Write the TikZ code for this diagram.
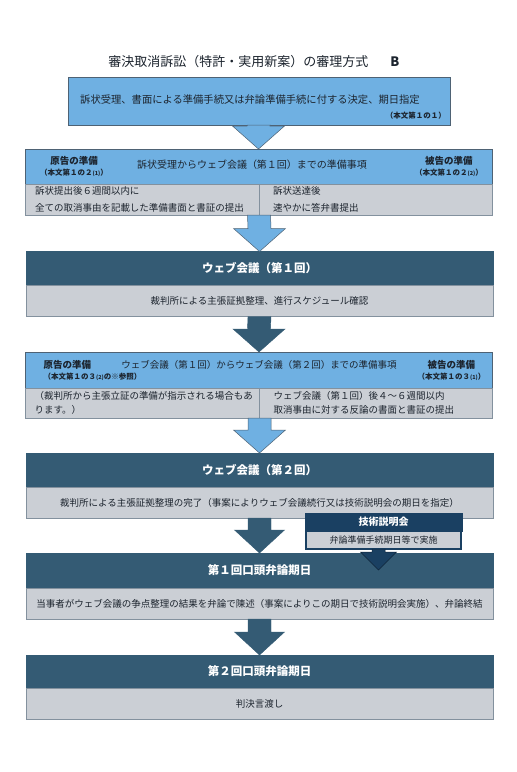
\documentclass[tikz,border=0pt]{standalone}
\usepackage{fontspec}
\setmainfont{Noto Sans CJK JP}
\usepackage{xcolor}
\usetikzlibrary{
    positioning,
    calc
}
\definecolor{skyfill}{RGB}{111,176,226}
\definecolor{slatefill}{RGB}{52,91,116}
\definecolor{navyfill}{RGB}{26,64,98}
\definecolor{greyfill}{RGB}{203,207,213}
\definecolor{edgecol}{RGB}{78,98,116}
\definecolor{inkcol}{RGB}{28,36,46}
\tikzset{
    titletext/.style={
        text=inkcol,
        font=\fontsize{13}{15}\selectfont
    }
}
\tikzset{
    skybox/.style={
        draw=edgecol,
        line width=0.5pt,
        fill=skyfill,
        minimum width=382pt,
        minimum height=48pt,
        outer sep=0pt
    }
}
\tikzset{
    skyhead/.style={
        draw=edgecol,
        line width=0.5pt,
        fill=skyfill,
        minimum width=467pt,
        minimum height=35pt,
        inner sep=0pt,
        outer sep=0pt
    }
}
\tikzset{
    slatehead/.style={
        draw=slatefill,
        fill=slatefill,
        text=white,
        minimum width=467pt,
        minimum height=34pt,
        outer sep=0pt,
        font=\bfseries\fontsize{11.5}{13}\selectfont
    }
}
\tikzset{
    greyrow/.style={
        draw=edgecol!70,
        line width=0.5pt,
        fill=greyfill,
        text=inkcol,
        minimum width=467pt,
        minimum height=31pt,
        outer sep=0pt
    }
}
\tikzset{
    greyhalf/.style={
        draw=edgecol!70,
        line width=0.5pt,
        fill=greyfill,
        text=inkcol,
        minimum height=31pt,
        inner ysep=0pt,
        outer sep=0pt,
        align=left,
        font=\fontsize{9.5}{17}\selectfont
    }
}
\tikzset{
    bodytext/.style={
        text=inkcol,
        inner sep=0pt
    }
}
\tikzset{
    sidelabel/.style={
        text=inkcol,
        inner sep=0pt,
        align=center,
        font=\bfseries\fontsize{9.5}{11}\selectfont
    }
}
\tikzset{
    reftext/.style={
        text=inkcol,
        inner sep=0pt,
        font=\bfseries\fontsize{7.5}{9}\selectfont
    }
}
\tikzset{
    navyhead/.style={
        draw=navyfill,
        fill=navyfill,
        text=white,
        minimum width=157pt,
        minimum height=18pt,
        inner sep=0pt,
        outer sep=0pt,
        font=\bfseries\fontsize{10}{12}\selectfont
    }
}
\tikzset{
    navyrow/.style={
        draw=navyfill,
        line width=1.2pt,
        fill=greyfill,
        text=inkcol,
        minimum width=155pt,
        minimum height=18pt,
        inner sep=0pt,
        outer sep=0pt,
        font=\fontsize{9}{11}\selectfont
    }
}
\tikzset{
    skyarrow/.style={
        fill=skyfill,
        draw=edgecol,
        line width=0.5pt
    }
}
\tikzset{
    slatearrow/.style={
        fill=slatefill,
        draw=slatefill
    }
}
\tikzset{
    navyarrow/.style={
        fill=navyfill,
        draw=navyfill!60!black,
        line width=0.5pt
    }
}
\newcommand{\blockarrow}[6][]{%
    \path[#1] ($(#2)+(-#4,0)$) -- ($(#3)+(-#4,-#6)$) -- ($(#3)+(-#5,-#6)$)
        -- (#3) -- ($(#3)+(#5,-#6)$) -- ($(#3)+(#4,-#6)$) -- ($(#2)+(#4,0)$) -- cycle;
}

\begin{document}
\begin{tikzpicture}[
    x=1pt,
    y=-1pt,
    font=\fontsize{9.5}{12}\selectfont
]
\useasboundingbox[fill=white] (0,0) rectangle (517,772);

\node[titletext] (title) at (254,62)
    {審決取消訴訟（特許・実用新案）の審理方式\hspace{22pt}{\bfseries B}};

\node[skybox] (start) at (259,101) {};
\node[bodytext, font=\fontsize{10.3}{12}\selectfont] (starttext) at (250,100)
    {訴状受理、書面による準備手続又は弁論準備手続に付する決定、期日指定};
\node[reftext, anchor=east] (startref) at (446,116) {（本文第１の１）};

\node[skyhead] (prepA) at (258.5,166.5) {};
\node[bodytext, font=\fontsize{10}{12}\selectfont] (prepAtext) at (252,165)
    {訴状受理からウェブ会議（第１回）までの準備事項};
\node[sidelabel, right=15pt of prepA.west] (plainA)
    {原告の準備\\{\fontsize{7.5}{9}\selectfont（本文第１の２{\fontsize{5.5}{6}\selectfont(1)}）}};
\node[sidelabel, left=9pt of prepA.east] (defA)
    {被告の準備\\{\fontsize{7.5}{9}\selectfont（本文第１の２{\fontsize{5.5}{6}\selectfont(2)}）}};
\node[greyhalf, text width=214pt, inner xsep=10pt, below right=0pt and 0pt of prepA.south west] (plainAtask)
    {訴状提出後６週間以内に\\全ての取消事由を記載した準備書面と書証の提出};
\node[greyhalf, text width=205pt, inner xsep=14pt, below left=0pt and 0pt of prepA.south east] (defAtask)
    {訴状送達後\\速やかに答弁書提出};

\node[slatehead] (webA) at (259.5,268.5) {ウェブ会議（第１回）};
\node[greyrow, below=0pt of webA] (webAtask) {裁判所による主張証拠整理、進行スケジュール確認};

\node[skyhead, minimum height=36pt] (prepB) at (259,370) {};
\node[bodytext] (prepBtext) at (259,365)
    {ウェブ会議（第１回）からウェブ会議（第２回）までの準備事項};
\node[sidelabel, align=left, right=18pt of prepB.west] (plainB)
    {原告の準備\\{\fontsize{7.5}{9}\selectfont（本文第１の３{\fontsize{5.5}{6}\selectfont(2)}の※参照）}};
\node[sidelabel, left=7pt of prepB.east] (defB)
    {被告の準備\\{\fontsize{7.5}{9}\selectfont（本文第１の３{\fontsize{5.5}{6}\selectfont(1)}）}};
\node[greyhalf, minimum height=30pt, font=\fontsize{9.5}{14}\selectfont, text width=216pt, inner xsep=9pt,
    below right=0pt and 0pt of prepB.south west] (plainBtask)
    {（裁判所から主張立証の準備が指示される場合もあ\\ります。）};
\node[greyhalf, minimum height=30pt, font=\fontsize{9.5}{14}\selectfont, text width=205pt, inner xsep=14pt,
    below left=0pt and 0pt of prepB.south east] (defBtask)
    {ウェブ会議（第１回）後４～６週間以内\\取消事由に対する反論の書面と書証の提出};

\node[slatehead] (webB) at (259.5,470) {ウェブ会議（第２回）};
\node[greyrow, below=0pt of webB] (webBtask)
    {裁判所による主張証拠整理の完了（事案によりウェブ会議続行又は技術説明会の期日を指定）};

\node[navyhead] (tech) at (383.5,522) {技術説明会};
\node[navyrow, below=0pt of tech] (techtask) {弁論準備手続期日等で実施};
\coordinate (techfoot) at ([xshift=-5pt]techtask.south);
\coordinate (techtip) at (378.5,570);

\node[slatehead, minimum height=35pt] (oralA) at (259.5,570.5) {第１回口頭弁論期日};
\node[greyrow, below=0pt of oralA] (oralAtask)
    {当事者がウェブ会議の争点整理の結果を弁論で陳述（事案によりこの期日で技術説明会実施）、弁論終結};

\node[slatehead, minimum height=33pt] (oralB) at (259.5,671.5) {第２回口頭弁論期日};
\node[greyrow, below=0pt of oralB] (oralBtask) {判決言渡し};

\blockarrow[skyarrow]{start.south}{prepA.north}{11.5}{26}{23}
\blockarrow[skyarrow]{plainAtask.south east}{webA.north}{11.5}{26}{23}
\blockarrow[slatearrow]{webAtask.south}{prepB.north}{11.5}{26}{23}
\blockarrow[skyarrow]{plainBtask.south east}{webB.north}{11.5}{26}{23}
\blockarrow[slatearrow]{webBtask.south}{oralA.north}{11.5}{25}{23}
\blockarrow[navyarrow]{techfoot}{techtip}{6.5}{18}{18}
\blockarrow[slatearrow]{oralAtask.south}{oralB.north}{11.5}{25}{23}

\end{tikzpicture}
\end{document}
